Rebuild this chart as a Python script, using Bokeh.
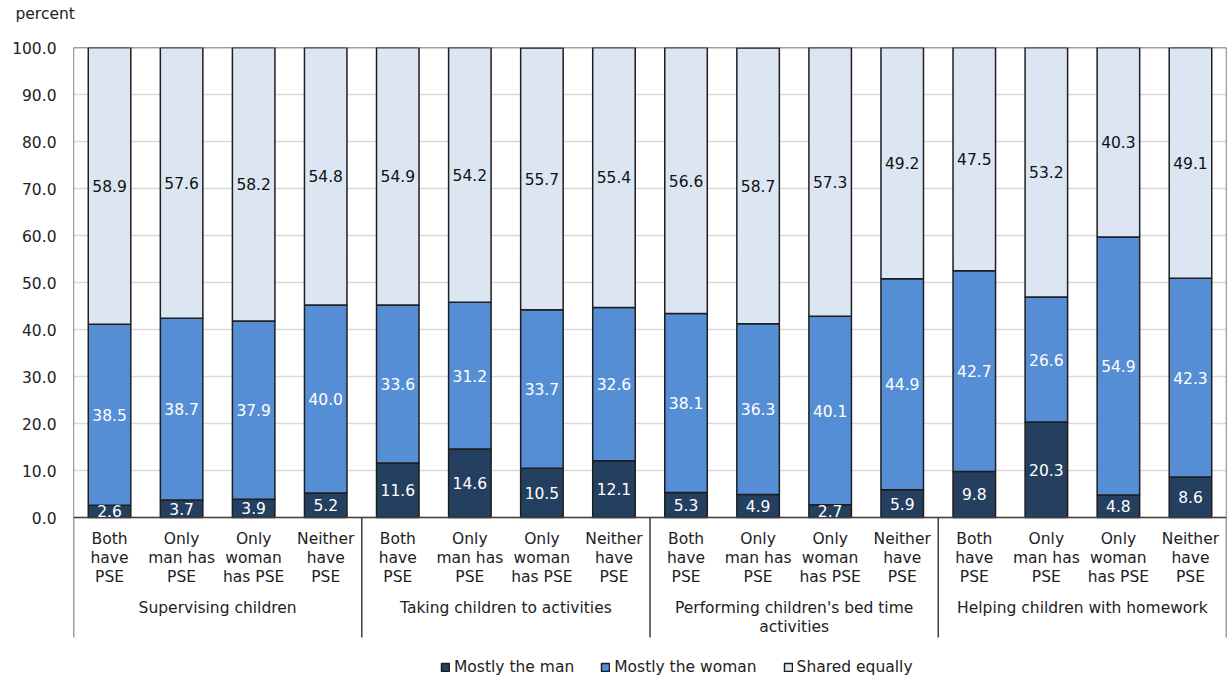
from bokeh.plotting import figure
from bokeh.models import (ColumnDataSource, Range1d, FixedTicker, NumeralTickFormatter,
                          Legend, LegendItem)
from bokeh.core.properties import value
from bokeh.embed import file_html
from bokeh.resources import INLINE

# Activities (top-level groups) and couple education profiles (sub-groups)
activities = ["Supervising children", "Taking children to activities",
              "Performing children's bed time\nactivities", "Helping children with homework"]
profiles = ["Both\nhave\nPSE", "Only\nman has\nPSE", "Only\nwoman\nhas PSE", "Neither\nhave\nPSE"]

# Percent shares, in activity order, four profiles each
mostly_man = [2.6, 3.7, 3.9, 5.2,
              11.6, 14.6, 10.5, 12.1,
              5.3, 4.9, 2.7, 5.9,
              9.8, 20.3, 4.8, 8.6]
mostly_woman = [38.5, 38.7, 37.9, 40.0,
                33.6, 31.2, 33.7, 32.6,
                38.1, 36.3, 40.1, 44.9,
                42.7, 26.6, 54.9, 42.3]
shared_equally = [58.9, 57.6, 58.2, 54.8,
                  54.9, 54.2, 55.7, 55.4,
                  56.6, 58.7, 57.3, 49.2,
                  47.5, 53.2, 40.3, 49.1]

series_names = ["Mostly the man", "Mostly the woman", "Shared equally"]
y_ticks = [0, 10, 20, 30, 40, 50, 60, 70, 80, 90, 100]

FONT = "DejaVu Sans"
FS = "15.5px"
TXT = "#222222"
C_MAN, C_WOMAN, C_SHARED = "#243f60", "#558ed5", "#dce6f2"
EDGE = "#1e1e1e"
FRAME = "#404040"

n = len(mostly_man)
xs = [i + 0.5 for i in range(n)]

# vertical scale: 4.7 px per percentage point; the plotting area continues
# below zero to hold the category labels and the legend
PX = 4.7
TOP_PX, ZERO_PX, H = 47, 517, 679
y_bottom = -(H - ZERO_PX) / PX

def px_to_y(py):
    return (ZERO_PX - py) / PX

source = ColumnDataSource(dict(x=xs, man=mostly_man, woman=mostly_woman, shared=shared_equally))

p = figure(width=1229, height=H, output_backend="svg", toolbar_location=None,
           x_range=Range1d(0, n), y_range=Range1d(y_bottom, 100),
           min_border_left=73, min_border_right=3, min_border_top=TOP_PX, min_border_bottom=0)
p.background_fill_color = "white"
p.border_fill_color = "white"
p.outline_line_color = None

p.xaxis.visible = False
p.xgrid.visible = False
p.ygrid.grid_line_color = "#dadada"
p.ygrid.grid_line_width = 1.5
p.ygrid.ticker = FixedTicker(ticks=y_ticks)

ya = p.yaxis[0]
ya.ticker = FixedTicker(ticks=y_ticks)
ya.formatter = NumeralTickFormatter(format="0.0")
ya.axis_line_color = None
ya.major_tick_line_color = None
ya.minor_tick_line_color = None
ya.major_label_standoff = 11
ya.major_label_text_font = FONT
ya.major_label_text_font_size = FS
ya.major_label_text_color = TXT

bars = p.vbar_stack(["man", "woman", "shared"], x="x", width=0.59, source=source,
                    color=[C_MAN, C_WOMAN, C_SHARED], line_color=EDGE, line_width=1.5)
for r in bars:
    r.glyph.line_color = EDGE

# box around the 0-100 area
p.quad(left=[0], right=[n], bottom=[0], top=[100], fill_color=None,
       line_color=FRAME, line_width=1.3)

# value labels centred in each segment
lbl_x, lbl_y, lbl_t, lbl_c = [], [], [], []
for i in range(n):
    base = 0.0
    for vals, col in ((mostly_man, "white"), (mostly_woman, "white"), (shared_equally, "#111111")):
        v = vals[i]
        lbl_x.append(xs[i])
        lbl_y.append(base + v / 2)
        lbl_t.append(f"{v:.1f}")
        lbl_c.append(col)
        base += v
p.text(x=lbl_x, y=lbl_y, text=lbl_t, text_color=lbl_c, text_font=value(FONT),
       text_font_size=FS, text_align="center", text_baseline="middle")

# category axis drawn below zero
sub_t = [profiles[i % 4] for i in range(n)]
p.text(x=xs, y=[px_to_y(529)] * n, text=sub_t, text_color=TXT,
       text_font=value(FONT), text_font_size=FS, text_align="center",
       text_baseline="top", text_line_height=1.06)

grp_x = [2, 6, 10, 14]
p.text(x=grp_x, y=[px_to_y(598)] * 4, text=activities, text_color=TXT,
       text_font=value(FONT), text_font_size=FS, text_align="center",
       text_baseline="top", text_line_height=1.06)

sep_x = [0, 4, 8, 12, 16]
p.segment(x0=sep_x, y0=[0] * 5, x1=sep_x, y1=[px_to_y(637)] * 5,
          line_color=FRAME, line_width=1.5)

p.text(x=[-(73 - 15) / 72.06], y=[px_to_y(13)], text=["percent"], text_color=TXT,
       text_font=value(FONT), text_font_size=FS, text_align="left",
       text_baseline="middle", level="overlay")

legend = Legend(items=[LegendItem(label=nm, renderers=[r]) for nm, r in zip(series_names, bars)],
                orientation="horizontal", location=(367, 3))
legend.glyph_width = 10
legend.glyph_height = 10
legend.label_standoff = 4
legend.spacing = 26
legend.padding = 0
legend.margin = 0
legend.border_line_color = None
legend.background_fill_alpha = 0
legend.label_text_font = FONT
legend.label_text_font_size = FS
legend.label_text_color = TXT
p.add_layout(legend)

open("out.html", "w").write(file_html(p, INLINE))
